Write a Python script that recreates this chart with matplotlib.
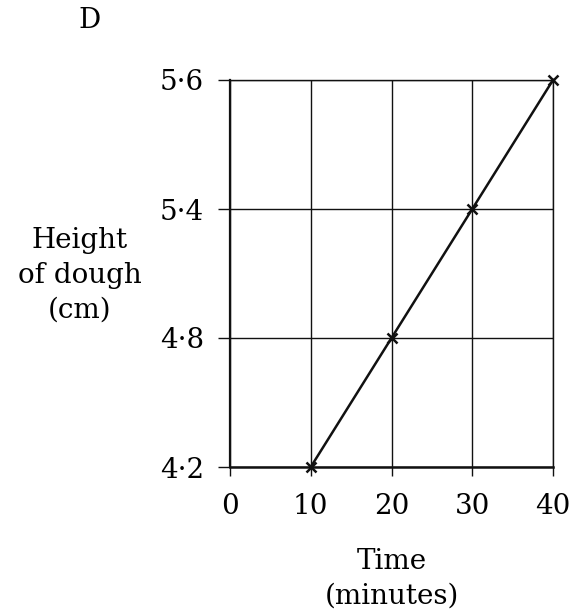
import matplotlib
matplotlib.use("Agg")
import matplotlib.pyplot as plt

time_min = [10, 20, 30, 40]
height_cm = [4.2, 4.8, 5.4, 5.6]
x_ticks = [0, 10, 20, 30, 40]
y_tick_labels = ["4\u00b72", "4\u00b78", "5\u00b74", "5\u00b76"]

plt.rcParams['font.family'] = ['DejaVu Serif', 'DejaVu Sans']
FS = 20

fig = plt.figure(figsize=(5.8, 6.15), dpi=100)
ax = fig.add_axes([230/580, 1-467/615, (553-230)/580, (467-80)/615])

# y axis is categorical: evenly spaced labels
ypos = [y_tick_labels.index(f"{v:.1f}".replace('.', '\u00b7')) for v in height_cm]
ax.plot(time_min, ypos, color='#111111', lw=1.8, marker='x', ms=7, mew=1.8, clip_on=False, zorder=5)

ax.set_xlim(0, 40)
ax.set_ylim(0, 3)
ax.set_xticks(x_ticks)
ax.set_yticks(range(len(y_tick_labels)))
ax.set_yticklabels(y_tick_labels)
ax.grid(True, color='#111111', lw=1.0)
for s in ax.spines.values():
    s.set_color('#111111')
    s.set_linewidth(1.0)
ax.spines['left'].set_linewidth(1.6)
ax.spines['bottom'].set_linewidth(1.8)
ax.tick_params(axis='y', length=8.6, width=1.0, color='#111111', labelsize=FS, pad=10)
ax.tick_params(axis='x', length=6.5, width=1.0, color='#111111', labelsize=FS, pad=12)

def px(x, y):
    return x/580, 1-y/615

for txt, yb in [("Height", 248), ("of dough", 283), ("(cm)", 318)]:
    fig.text(*px(80, yb), txt, ha='center', va='baseline', fontsize=FS)
for txt, yb in [("Time", 569), ("(minutes)", 604)]:
    fig.text(*px(392, yb), txt, ha='center', va='baseline', fontsize=FS)
fig.text(*px(90, 21), "D", ha='center', va='center', fontsize=FS)

fig.savefig("out.png", dpi=100)
